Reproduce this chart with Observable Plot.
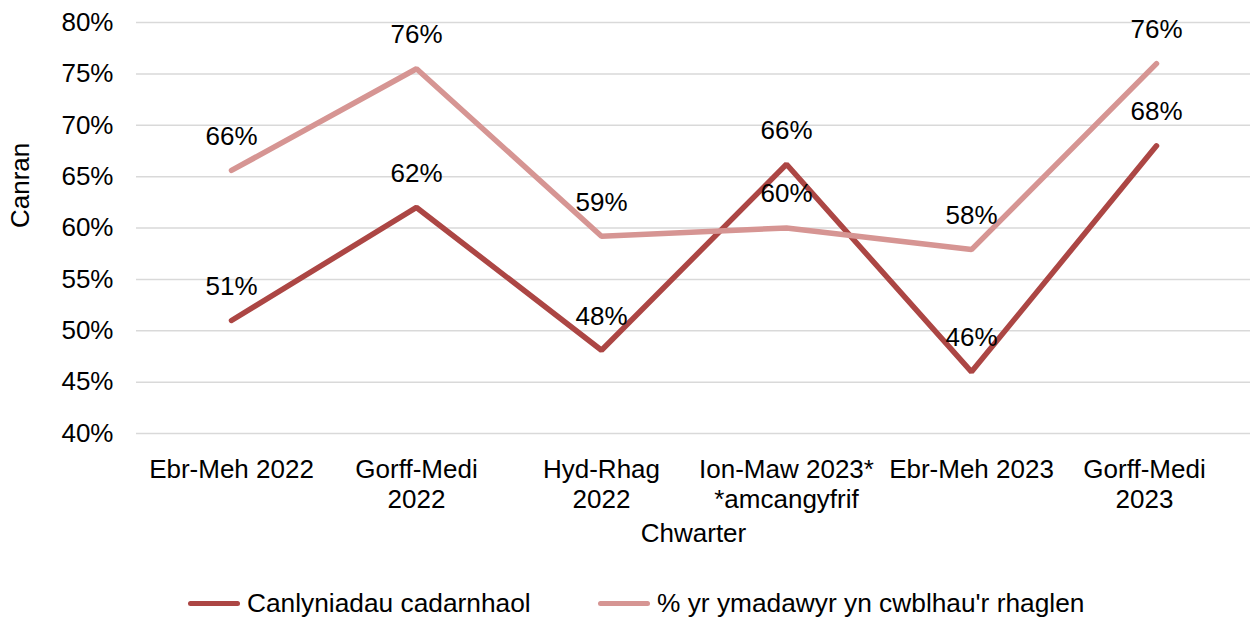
<!DOCTYPE html>
<html>
<head>
<meta charset="utf-8">
<script src="https://cdn.jsdelivr.net/npm/d3@7"></script>
<script src="https://cdn.jsdelivr.net/npm/@observablehq/plot@0.6"></script>
<style>
  html, body { margin: 0; padding: 0; background: #fff; overflow: hidden; }
  body { width: 1250px; height: 619px; position: relative; font-family: "Liberation Sans", Arial, sans-serif; }
  #legend { position: absolute; left: 0; top: 586px; width: 1250px; height: 34px; font-size: 26.3px; color: #000; }
  .item { position: absolute; top: 0; display: flex; align-items: center; height: 34px; white-space: nowrap; }
  .sw { width: 52px; height: 5px; border-radius: 3px; margin-right: 7px; }
</style>
</head>
<body>
<div id="chart"></div>
<div id="legend"></div>
<script>
const categories = ["Ebr-Meh 2022", "Gorff-Medi\n2022", "Hyd-Rhag\n2022", "Ion-Maw 2023*\n*amcangyfrif", "Ebr-Meh 2023", "Gorff-Medi\n2023"];
const seriesNames = ["Canlyniadau cadarnhaol", "% yr ymadawyr yn cwblhau'r rhaglen"];
const positiveOutcomes = [51, 62, 48.1, 66.2, 46, 68];
const completionRate = [65.6, 75.5, 59.2, 60, 57.9, 76];
const yTicks = [40, 45, 50, 55, 60, 65, 70, 75, 80];
const colors = ["#AC4644", "#D69593"];
const xTitle = "Chwarter";
const yTitle = "Canran";

const rows = [];
categories.forEach((c, i) => {
  rows.push({cat: c, series: seriesNames[0], value: positiveOutcomes[i]});
  rows.push({cat: c, series: seriesNames[1], value: completionRate[i]});
});
const s1 = rows.filter(d => d.series === seriesNames[0]);
const s2 = rows.filter(d => d.series === seriesNames[1]);

const plot = Plot.plot({
  width: 1250,
  height: 586,
  marginLeft: 136,
  marginRight: 0,
  marginTop: 22,
  marginBottom: 153,
  style: {fontFamily: "Liberation Sans, Arial, sans-serif", fontSize: "26px", color: "#000", background: "#fff"},
  x: {type: "point", domain: categories, padding: 0.5},
  y: {domain: [40, 80]},
  marks: [
    Plot.ruleY(yTicks, {stroke: "#d9d9d9", strokeWidth: 1.5}),
    Plot.axisY({ticks: yTicks, tickFormat: d => d + "%", tickSize: 0, tickPadding: 23, label: null, fill: "#000"}),
    Plot.axisX({ticks: categories.slice(0, 5), tickSize: 0, tickPadding: 23, lineHeight: 1.15, label: null, fill: "#000"}),
    Plot.axisX({ticks: categories.slice(5), tickSize: 0, tickPadding: 23, lineHeight: 1.15, label: null, fill: "#000", dx: -12}),
    Plot.text([yTitle], {frameAnchor: "left", dx: -116, rotate: -90, fill: "#000"}),
    Plot.text([xTitle], {frameAnchor: "bottom", lineAnchor: "middle", dy: 100, fill: "#000"}),
    Plot.line(s1, {x: "cat", y: "value", stroke: colors[0], strokeWidth: 5.5, strokeLinejoin: "miter", strokeLinecap: "round"}),
    Plot.line(s2, {x: "cat", y: "value", stroke: colors[1], strokeWidth: 5.5, strokeLinejoin: "miter", strokeLinecap: "round"}),
    Plot.text(rows, {x: "cat", y: "value", text: d => Math.round(d.value) + "%", dy: -34, fill: "#000"})
  ]
});
document.getElementById("chart").appendChild(plot);

const legend = document.getElementById("legend");
const lefts = [188, 598];
seriesNames.forEach((name, i) => {
  const item = document.createElement("div");
  item.className = "item";
  item.style.left = lefts[i] + "px";
  const sw = document.createElement("span");
  sw.className = "sw";
  sw.style.background = colors[i];
  const t = document.createElement("span");
  t.textContent = name;
  item.appendChild(sw);
  item.appendChild(t);
  legend.appendChild(item);
});
</script>
</body>
</html>
